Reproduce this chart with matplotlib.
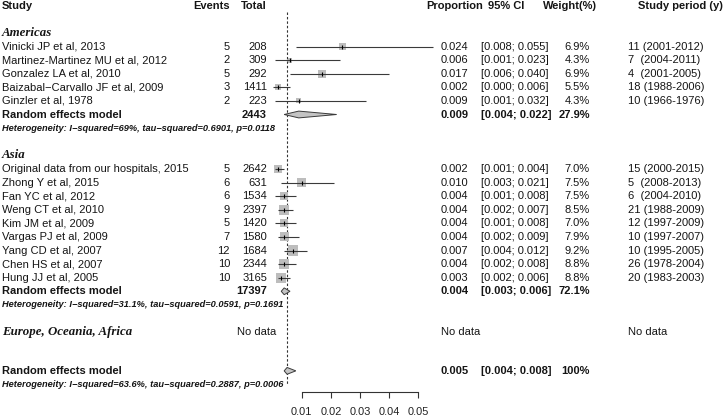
import numpy as np
import matplotlib.pyplot as plt
from matplotlib.patches import Polygon
from matplotlib.transforms import blended_transform_factory

# Americas
am_study = ["Vinicki JP et al, 2013", "Martinez-Martinez MU et al, 2012",
            "Gonzalez LA et al, 2010", "Baizabal\u2212Carvallo JF et al, 2009",
            "Ginzler et al, 1978"]
am_events = [5, 2, 5, 3, 2]
am_total = [208, 309, 292, 1411, 223]
am_prop = [0.024, 0.006, 0.017, 0.002, 0.009]
am_lo = [0.008, 0.001, 0.006, 0.000, 0.001]
am_hi = [0.055, 0.023, 0.040, 0.006, 0.032]
am_weight = [6.9, 4.3, 6.9, 5.5, 4.3]
am_period = ["11 (2001-2012)", "7  (2004-2011)", "4  (2001-2005)",
             "18 (1988-2006)", "10 (1966-1976)"]
am_pool = (2443, 0.009, 0.004, 0.022, "27.9%")
am_het = "Heterogeneity: I\u2212squared=69%, tau\u2212squared=0.6901, p=0.0118"

# Asia
as_study = ["Original data from our hospitals, 2015", "Zhong Y et al, 2015",
            "Fan YC et al, 2012", "Weng CT et al, 2010", "Kim JM et al, 2009",
            "Vargas PJ et al, 2009", "Yang CD et al, 2007", "Chen HS et al, 2007",
            "Hung JJ et al, 2005"]
as_events = [5, 6, 6, 9, 5, 7, 12, 10, 10]
as_total = [2642, 631, 1534, 2397, 1420, 1580, 1684, 2344, 3165]
as_prop = [0.002, 0.010, 0.004, 0.004, 0.004, 0.004, 0.007, 0.004, 0.003]
as_lo = [0.001, 0.003, 0.001, 0.002, 0.001, 0.002, 0.004, 0.002, 0.002]
as_hi = [0.004, 0.021, 0.008, 0.007, 0.008, 0.009, 0.012, 0.008, 0.006]
as_weight = [7.0, 7.5, 7.5, 8.5, 7.0, 7.9, 9.2, 8.8, 8.8]
as_period = ["15 (2000-2015)", "5  (2008-2013)", "6  (2004-2010)",
             "21 (1988-2009)", "12 (1997-2009)", "10 (1997-2007)",
             "10 (1995-2005)", "26 (1978-2004)", "20 (1983-2003)"]
as_pool = (17397, 0.004, 0.003, 0.006, "72.1%")
as_het = "Heterogeneity: I\u2212squared=31.1%, tau\u2212squared=0.0591, p=0.1691"

# overall
all_pool = (None, 0.005, 0.004, 0.008, "100%")
all_het = "Heterogeneity: I\u2212squared=63.6%, tau\u2212squared=0.2887, p=0.0006"

xticks = [0.01, 0.02, 0.03, 0.04, 0.05]

W, H = 727, 418
fig = plt.figure(figsize=(W / 100, H / 100), dpi=100)
# x: proportion 0 at 272.5px, 0.05 at 418.3px; y: rows of 13.6px
x0, x1 = 272.5, 418.3
ax = fig.add_axes([x0 / W, 0, (x1 - x0) / W, 1])
ax.set_xlim(0, 0.05)
r_top = -46.5 / 13.6
r_bot = (H - 46.5) / 13.6
ax.set_ylim(r_bot, r_top)
ax.patch.set_visible(False)
for s in ["top", "left", "right"]:
    ax.spines[s].set_visible(False)
ax.spines["bottom"].set_position(("data", 25.38))
ax.spines["bottom"].set_bounds(0.01, 0.05)
ax.spines["bottom"].set_color("#333333")
ax.spines["bottom"].set_linewidth(0.8)
ax.set_yticks([])
ax.set_xticks(xticks)
ax.set_xticklabels([f"{t:.2f}" for t in xticks], family="Liberation Sans")
ax.tick_params(axis="x", direction="out", length=4.3, width=0.8, color="#333333",
               pad=6.5, labelsize=7.9, labelcolor="#222222")

tr = blended_transform_factory(fig.transFigure, ax.transData)
sans = "Liberation Sans"
serif = "Liberation Serif"
tc = "#151515"
FS = 8


def txt(px, row, s, ha="left", weight="normal", style="normal", family=sans, size=FS):
    ax.text(px / W, row, s, transform=tr, ha=ha, va="center", fontsize=size,
            fontweight=weight, fontstyle=style, family=family, color=tc, clip_on=False)


# header
hr = -3.0
txt(2, hr, "Study", weight="bold")
txt(230, hr, "Events", ha="right", weight="bold")
txt(267, hr, "Total", ha="right", weight="bold")
txt(454.5, hr, "Proportion", ha="center", weight="bold")
txt(506, hr, "95% CI", ha="center", weight="bold")
txt(570, hr, "Weight(%)", ha="center", weight="bold")
txt(723, hr, "Study period (y)", ha="right", weight="bold")


def study_rows(start, names, ev, tot, p, lo, hi, w, per):
    for i in range(len(names)):
        r = start + i
        txt(2, r, names[i])
        txt(230, r, str(ev[i]), ha="right")
        txt(267, r, str(tot[i]), ha="right")
        txt(454.5, r, f"{p[i]:.3f}", ha="center")
        txt(481, r, f"[{lo[i]:.3f}; {hi[i]:.3f}]")
        txt(590, r, f"{w[i]:.1f}%", ha="right")
        txt(628, r, per[i])
        side = w[i] * 1.15 * 0.72
        ax.scatter(p[i], r, marker="s", s=side ** 2, color="#bdbdbd",
                   edgecolors="none", zorder=2, clip_on=False)
        ax.plot([lo[i], hi[i]], [r, r], color="#3a3a3a", lw=0.8, zorder=3,
                clip_on=False, solid_capstyle="butt")
        ax.plot(p[i], r, marker="|", ms=2.5, mew=0.8, color="black", zorder=4,
                clip_on=False)


def pooled(r, pool, het):
    tot, p, lo, hi, w = pool
    txt(2, r, "Random effects model", weight="bold")
    if tot is not None:
        txt(267, r, str(tot), ha="right", weight="bold")
    txt(454.5, r, f"{p:.3f}", ha="center", weight="bold")
    txt(481, r, f"[{lo:.3f}; {hi:.3f}]", weight="bold")
    txt(590, r, w, ha="right", weight="bold")
    txt(2, r + 1, het, weight="bold", style="italic", size=6.7)
    h = 0.25
    ax.add_patch(Polygon([[lo, r], [p, r - h], [hi, r], [p, r + h]], closed=True,
                         facecolor="#c4c4c4", edgecolor="#3a3a3a", lw=0.7,
                         zorder=3, clip_on=False))


txt(2, -1, "Americas", weight="bold", style="italic", family=serif, size=9.3)
study_rows(0, am_study, am_events, am_total, am_prop, am_lo, am_hi, am_weight, am_period)
pooled(5, am_pool, am_het)

txt(2, 8, "Asia", weight="bold", style="italic", family=serif, size=9.3)
study_rows(9, as_study, as_events, as_total, as_prop, as_lo, as_hi, as_weight, as_period)
pooled(18, as_pool, as_het)

txt(2, 21, "Europe, Oceania, Africa", weight="bold", style="italic", family=serif, size=9.3)
txt(237, 21, "No data")
txt(441, 21, "No data")
txt(628, 21, "No data")

pooled(23.85, all_pool, all_het)

# reference line at overall estimate
ax.plot([all_pool[1], all_pool[1]], [-2.54, 24.9], color="#333333", lw=0.8,
        dashes=(2.2, 1.8), zorder=1, clip_on=False)

fig.savefig("out.png", dpi=100)
